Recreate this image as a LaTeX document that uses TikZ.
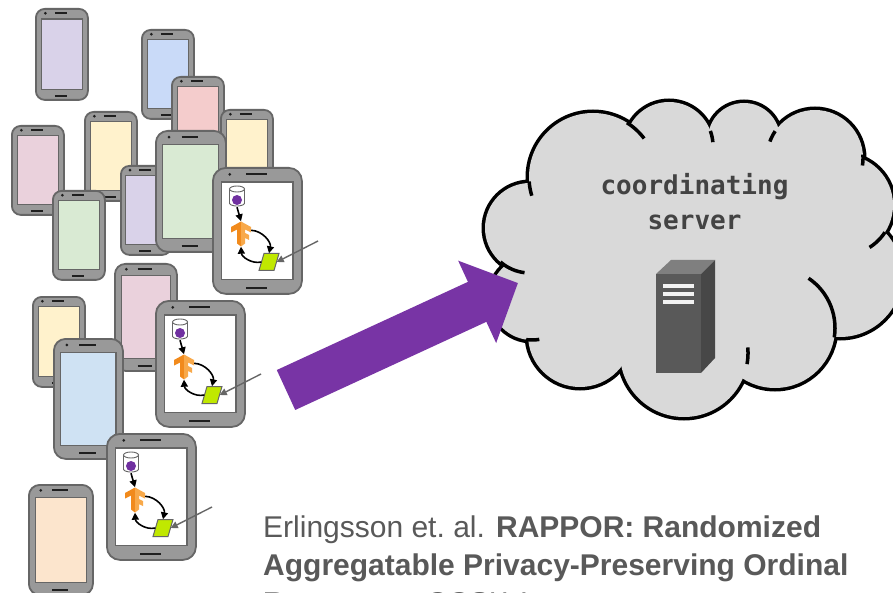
\documentclass[tikz,border=0pt]{standalone}
\usepackage{fontspec}
\setmainfont{Liberation Sans}
\newfontfamily\srvfont{DejaVu Sans Mono}
\usetikzlibrary{calc,arrows.meta}

% palette
\definecolor{hsBody}{HTML}{999999}
\definecolor{hsEdge}{HTML}{666666}
\definecolor{hsDark}{HTML}{1F1F1F}
\definecolor{scrLav}{HTML}{D9D2E9}
\definecolor{scrBlue}{HTML}{C9DAF8}
\definecolor{scrRose}{HTML}{F4CCCC}
\definecolor{scrCream}{HTML}{FFF2CC}
\definecolor{scrPink}{HTML}{EAD1DC}
\definecolor{scrMint}{HTML}{D9EAD3}
\definecolor{scrSky}{HTML}{CFE2F3}
\definecolor{scrPeach}{HTML}{FCE5CD}
\definecolor{tfLeft}{HTML}{F18A1C}
\definecolor{tfRight}{HTML}{F8A94A}
\definecolor{updGreen}{HTML}{C0E800}
\definecolor{dotPurple}{HTML}{7030A0}
\definecolor{bigPurple}{RGB}{120,52,165}
\definecolor{cloudFill}{HTML}{D9D9D9}
\definecolor{srvFront}{HTML}{595959}
\definecolor{srvTop}{HTML}{7F7F7F}
\definecolor{srvSide}{HTML}{474747}
\definecolor{srvBar}{HTML}{F2F2F2}
\definecolor{refText}{HTML}{595959}
\definecolor{lblText}{HTML}{434343}

\tikzset{
  hsbody/.style={draw=hsEdge, fill=hsBody, line width=1.8pt, inner sep=0pt},
  hsscreen/.style={draw=hsEdge, line width=1.1pt, inner sep=0pt},
  hsdetail/.style={draw=hsDark, line width=1.8pt},
  dbpart/.style={draw=hsEdge, fill=white, line width=0.9pt},
  updpart/.style={fill=updGreen, draw=hsEdge, line width=1pt},
  flow/.style={draw=black, line width=1.6pt, -{Triangle[length=7pt,width=7pt]}},
  feed/.style={draw=hsEdge, line width=1.4pt, -{Triangle[length=7pt,width=7pt]}},
  cloudline/.style={draw=black, line width=3.5pt},
  bigarrow/.style={draw=bigPurple, line width=44pt, -{Triangle[length=45pt,width=88pt]}},
  reftext/.style={text=refText, inner sep=0pt, font=\fontsize{30}{38}\selectfont},
  srvtext/.style={text=lblText, inner sep=0pt, font=\srvfont\bfseries\fontsize{26}{35}\selectfont},
}

% a handset: name, left, top, width, height, screen colour
\newcommand{\handset}[6]{%
  \pgfmathsetlengthmacro{\hsr}{min(0.17*#4,13)}%
  \node[hsbody, minimum width=#4pt, minimum height=#5pt, rounded corners=\hsr,
        anchor=north west] (#1) at (#2,#3) {};
  \node[hsscreen, fill=#6, minimum width={0.8*#4pt}, minimum height={0.775*#5pt},
        anchor=north] (#1-scr) at ($(#1.north)+(0,{0.115*#5})$) {};
  \fill[hsDark] ($(#1.north west)+({0.2*#4},{0.058*#5})$) circle[radius=1.5];
  \draw[hsdetail] ($(#1.north west)+({0.38*#4},{0.058*#5})$) --
                  ($(#1.north west)+({0.62*#4},{0.058*#5})$);
  \draw[hsdetail] ($(#1.south west)+({0.38*#4},{-0.055*#5})$) --
                  ($(#1.south west)+({0.62*#4},{-0.055*#5})$);
}

% a handset running the on-device training loop
\newcommand{\appphone}[3]{%
  \handset{#1}{#2}{#3}{89}{126}{white}%
  \begin{scope}[shift={(#2,#3)}]
    \filldraw[dbpart] (32.5,22) -- (32.5,36)
       -- plot[domain=0:180,samples=19] ({25+7.5*cos(\x)},{36+3*sin(\x)}) -- (17.5,22) -- cycle;
    \filldraw[dbpart] (25,22) ellipse[x radius=7.5, y radius=3];
    \fill[dotPurple] (25,33) circle[radius=5];
    \node[inner sep=0pt, minimum width=15pt, minimum height=20pt] (#1-db) at (25,30) {};
    \node[inner sep=0pt, minimum width=20pt, minimum height=25pt] (#1-tf) at (29,67) {};
    \begin{scope}[shift={(19,54.5)}]
      \fill[tfLeft] (10,0) -- (0,5.5) -- (0,11) -- (6,8) -- (6,22) -- (10,25) -- cycle;
      \fill[tfRight] (10,0) -- (20,5.5) -- (20,11) -- (14,8) -- (14,11.5) -- (18,13.5)
          -- (18,18.5) -- (14,16.5) -- (14,22) -- (10,25) -- cycle;
    \end{scope}
    \filldraw[updpart] (52,86.5) -- (67,86.5) -- (62,103.5) -- (47,103.5) -- cycle;
    \node[inner sep=0pt, minimum width=15pt, minimum height=17pt] (#1-upd) at (57,95) {};
    \coordinate (#1-in) at (106,74);
  \end{scope}
  \draw[flow] (#1-db.south) -- (#1-tf.north);
  \draw[flow] (#1-tf.20) to[bend left=50] (#1-upd.north);
  \draw[flow] (#1-upd.west) to[bend left=50] (#1-tf.south);
  \draw[feed] (#1-in) -- (#1-upd.east);
}

\begin{document}
\begin{tikzpicture}[x=1pt,y=-1pt]
\useasboundingbox (0,0) rectangle (893,593);
\fill[white] (0,0) rectangle (893,593);

% ---- cloud of the coordinating server ----
\def\lobes{530/228/45, 593/177/64, 669/146/44, 744/139/36, 815/158/48, 843/205/50,
           840/275/62, 775/328/60, 684/353/64, 580/335/52, 532/298/42}
\foreach \cx/\cy/\r in \lobes { \draw[black, line width=7pt] (\cx,\cy) circle[radius=\r]; }
\foreach \cx/\cy/\r in \lobes { \fill[cloudFill] (\cx,\cy) circle[radius=\r]; }
\fill[cloudFill] (530,228) -- (593,177) -- (669,146) -- (744,139) -- (815,158) -- (843,205)
  -- (840,275) -- (775,328) -- (684,353) -- (580,335) -- (532,298) -- cycle;
% inner folds of the cloud outline
\foreach \cx/\cy/\r/\a/\b in {530/228/45/97/131, 593/177/64/163/176, 593/177/64/-58/-37,
    669/146/44/-20/-5, 815/158/48/200/214, 815/158/48/-4/9, 843/205/50/33/58,
    775/328/60/-56/9, 684/353/64/-5/10, 532/298/42/80/98}
  { \draw[cloudline] plot[domain=\a:\b, samples=16] ({\cx+\r*cos(\x)},{\cy+\r*sin(\x)}); }
\coordinate (cloudport) at (518,283);

\node[srvtext, anchor=base] (srv1) at (694.5,195) {coordinating};
\node[srvtext, anchor=base] (srv2) at (694.5,230) {server};

% server tower
\fill[srvTop] (656,274) -- (671,260) -- (715,260) -- (701,274) -- cycle;
\fill[srvSide] (701,274) -- (715,260) -- (715,358) -- (701,373) -- cycle;
\fill[srvFront] (656,274) rectangle (701,373);
\foreach \yb in {286,294,302} { \fill[srvBar] (663,\yb-1.6) rectangle (694,\yb+1.6); }

% ---- the crowd of handsets ----
\handset{h1}{35}{8}{52}{91}{scrLav}
\handset{h2}{141}{29}{52}{89}{scrBlue}
\handset{h3}{171}{76}{52}{90}{scrRose}
\handset{h4}{220}{109}{52}{90}{scrCream}
\handset{h5}{11}{125}{52}{89}{scrPink}
\handset{h6}{84}{111}{52}{89}{scrCream}
\handset{h7}{52}{190}{52}{89}{scrMint}
\handset{h8}{120}{165}{50}{89}{scrLav}
\handset{h9}{155}{130}{70}{121}{scrMint}
\appphone{a1}{212}{167}
\handset{h11}{114}{263}{62}{107}{scrPink}
\handset{h12}{32}{296}{52}{90}{scrCream}
\handset{h13}{53}{338}{69}{120}{scrSky}
\appphone{a2}{155}{300}
\appphone{a3}{106}{433}
\handset{h16}{28}{484}{64}{110}{scrPeach}

% ---- upload to the server ----
\coordinate (upload) at (286,390);
\draw[bigarrow] (upload) -- (cloudport);

% ---- reference ----
\node[reftext, anchor=base west] (ref1) at (263,537) {Erlingsson et.\ al. \textbf{RAPPOR: Randomized}};
\node[reftext, anchor=base west] (ref2) at (263,575) {\textbf{Aggregatable Privacy-Preserving Ordinal}};
\node[reftext, anchor=base west] (ref3) at (263,613) {\textbf{Response.} CCS'14};
\end{tikzpicture}
\end{document}
